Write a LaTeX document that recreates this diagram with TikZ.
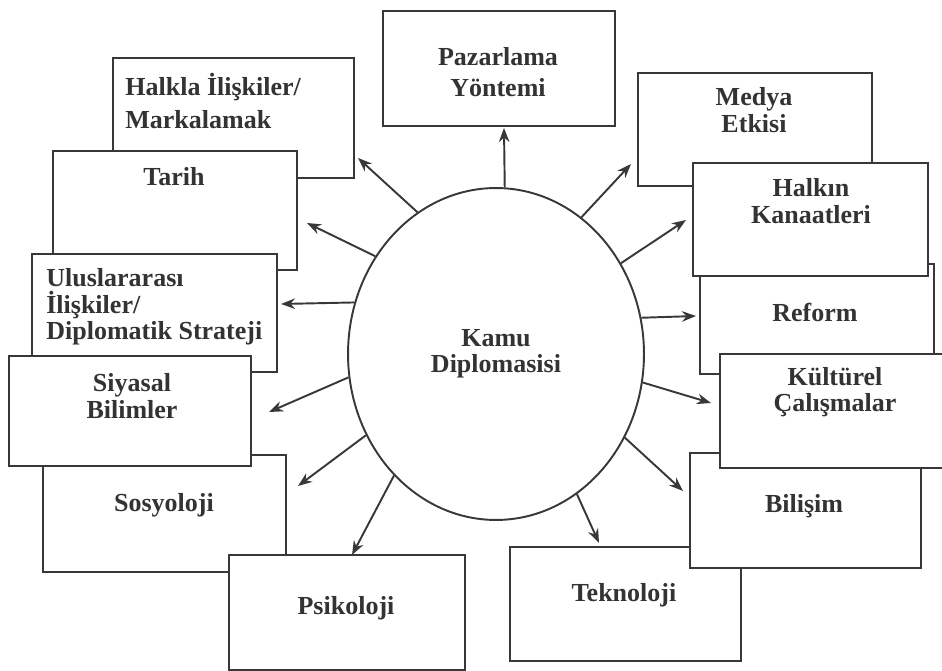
\documentclass[tikz,border=0pt]{standalone}
\usepackage{fontspec}
\setmainfont{Liberation Serif}
\usetikzlibrary{shapes.geometric}
\usetikzlibrary{arrows.meta}

\begin{document}
\begin{tikzpicture}
            [x=0.02cm, y=-0.02cm,
            border/.style={line width=1.1pt, draw=linecolor, fill=white, inner sep=0pt, anchor=north west},
            box/.style 2 args={minimum width=#1*0.2mm, minimum height=#2*0.2mm},
            link/.style={line width=1.1pt, draw=linecolor, -{Stealth[length=8pt,width=6pt]}},
            word/.style={font=\bfseries\fontsize{14.8}{15}\selectfont, text=textcolor, inner sep=0pt, align=center},
            ]
            \colorlet{linecolor}{black!78}
            \colorlet{textcolor}{black!80}
            \useasboundingbox (0,0) rectangle (942,671);

            % centre
            \node[word, ellipse, draw=linecolor, line width=1.1pt, minimum width=296*0.2mm, minimum height=332*0.2mm] (kamu) at (496,354) {Kamu\\Diplomasisi};

            % top
            \node[border, box={232}{115}] (pazar) at (382,10) {};
            \node[word, font=\bfseries\fontsize{14.8}{18}\selectfont] (pazarT) at (498,72) {Pazarlama\\Yöntemi};

            % left side
            \node[border, box={241}{120}] (halkla) at (112,57) {};
            \node[word, align=left, anchor=west, font=\bfseries\fontsize{14.8}{19}\selectfont] (halklaT) at (125,101) {Halkla İlişkiler/\\Markalamak};
            \node[border, box={244}{119}] (tarih) at (52,150) {};
            \node[word] (tarihT) at (174,177) {Tarih};
            \node[border, box={245}{118}] (ulus) at (31,253) {};
            \node[word, align=left, anchor=west] (ulusT) at (46,307) {Uluslararası\\İlişkiler/\\Diplomatik Strateji};
            \node[border, box={243}{117}] (sosyo) at (42,454) {};
            \node[word] (sosyoT) at (164,505) {Sosyoloji};
            \node[border, box={242}{110}] (siyasal) at (8,355) {};
            \node[word] (siyasalT) at (132,396) {Siyasal\\Bilimler};
            \node[border, box={236}{115}] (psiko) at (228,554) {};
            \node[word] (psikoT) at (346,608) {Psikoloji};

            % right side
            \node[border, box={234}{113}] (medya) at (637,72) {};
            \node[word] (medyaT) at (754,110) {Medya\\Etkisi};
            \node[border, box={234}{110}] (reform) at (699,263) {};
            \node[word] (reformT) at (815,312) {Reform};
            \node[border, box={235}{113}] (halkin) at (692,162) {};
            \node[word] (halkinT) at (811,201) {Halkın\\Kanaatleri};
            \node[border, box={231}{114}] (tekno) at (509,546) {};
            \node[word] (teknoT) at (624,595) {Teknoloji};
            \node[border, box={231}{115}] (bilisim) at (689,452) {};
            \node[word] (bilisimT) at (804,506) {Bilişim};
            \node[border, box={231}{114}] (kultur) at (719,353) {};
            \node[word] (kulturT) at (835,392) {Kültürel\\Çalışmalar};

            % arrow tips
            \coordinate (pazarA) at (504,128);
            \coordinate (halklaA) at (358,158);
            \coordinate (tarihA) at (307,223);
            \coordinate (ulusA) at (281,304);
            \coordinate (siyasalA) at (269,412);
            \coordinate (sosyoA) at (298,486);
            \coordinate (psikoA) at (352,555);
            \coordinate (teknoA) at (599,543);
            \coordinate (bilisimA) at (683,491);
            \coordinate (kulturA) at (711,403);
            \coordinate (reformA) at (696,316);
            \coordinate (halkinA) at (686,220);
            \coordinate (medyaA) at (631,164);

            \draw[link] (kamu.87) -- (pazarA);
            \draw[link] (kamu.119) -- (halklaA);
            \draw[link] (kamu.141.5) -- (tarihA);
            \draw[link] (kamu.160.7) -- (ulusA);
            \draw[link] (kamu.189) -- (siyasalA);
            \draw[link] (kamu.212) -- (sosyoA);
            \draw[link] (kamu.230) -- (psikoA);
            \draw[link] (kamu.300) -- (teknoA);
            \draw[link] (kamu.327) -- (bilisimA);
            \draw[link] (kamu.349) -- (kulturA);
            \draw[link] (kamu.14.8) -- (reformA);
            \draw[link] (kamu.36.6) -- (halkinA);
            \draw[link] (kamu.58.4) -- (medyaA);
        \end{tikzpicture}
\end{document}
